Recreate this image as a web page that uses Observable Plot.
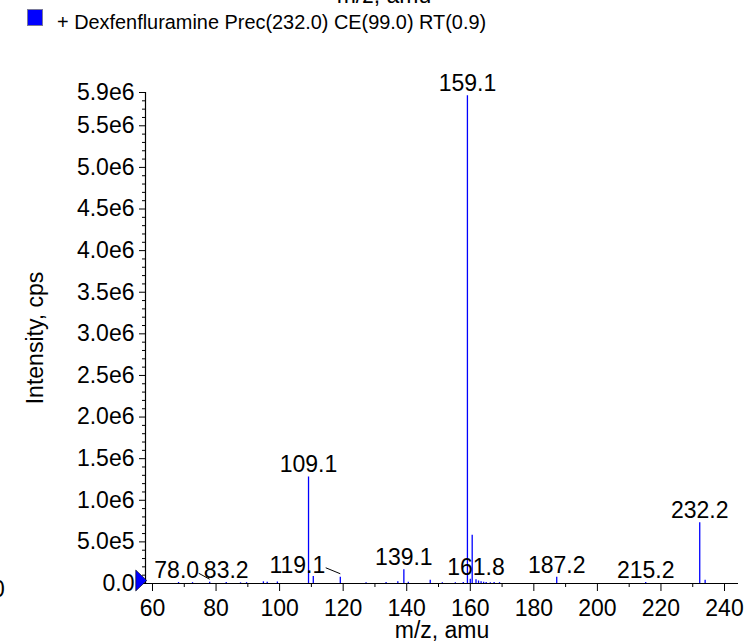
<!DOCTYPE html>
<html><head><meta charset="utf-8">
<script src="https://cdn.jsdelivr.net/npm/d3@7"></script>
<script src="https://cdn.jsdelivr.net/npm/@observablehq/plot@0.6"></script>
<style>
body{margin:0;background:#fff;}
#wrap{position:relative;width:756px;height:642px;overflow:hidden;font-family:"Liberation Sans",Arial,sans-serif;color:#000;background:#fff;}
#cutTop{position:absolute;top:-16px;left:0;width:768px;text-align:center;font-size:23px;line-height:23px;white-space:nowrap;}
#legend{position:relative;height:45px;}
#swatch{position:absolute;left:27px;top:9px;width:14px;height:15px;background:#0000ff;border:1px solid #7a7a9a;}
#legendText{position:absolute;left:57px;top:12px;font-size:19.9px;line-height:20px;white-space:nowrap;}
#cutLeft{position:absolute;left:-8px;top:578px;font-size:23px;line-height:23px;}
</style></head><body>
<div id="wrap">
  <div id="cutTop">m/z, amu</div>
  <div id="legend"><span id="swatch"></span><span id="legendText"></span></div>
  <div id="chart"></div>
  <div id="cutLeft">0</div>
</div>
<script>
// ---- data ----
const seriesName = "+ Dexfenfluramine Prec(232.0) CE(99.0) RT(0.9)";
const mz = [68.2, 72.6, 78.0, 83.2, 87.7, 89.6, 94.9, 96.1, 99.3, 109.1, 110.6, 119.1, 127.2, 133.5, 137.2, 139.1, 140.5, 147.4, 151.2, 155.3, 157.8, 159.1, 160.0, 160.6, 161.8, 162.6, 163.4, 164.2, 165.0, 166.3, 167.5, 169.2, 187.2, 215.2, 232.2, 233.9];
const intensity = [0.012e6, 0.010e6, 0.015e6, 0.012e6, 0.008e6, 0.010e6, 0.020e6, 0.015e6, 0.018e6, 1.28e6, 0.085e6, 0.075e6, 0.010e6, 0.012e6, 0.020e6, 0.165e6, 0.015e6, 0.040e6, 0.010e6, 0.010e6, 0.012e6, 5.86e6, 0.050e6, 0.58e6, 0.045e6, 0.030e6, 0.020e6, 0.015e6, 0.012e6, 0.010e6, 0.012e6, 0.010e6, 0.075e6, 0.012e6, 0.73e6, 0.040e6];
const labelMz = [78.0, 83.2, 109.1, 119.1, 139.1, 159.1, 161.8, 187.2, 215.2, 232.2];
const labelText = ["78.0", "83.2", "109.1", "119.1", "139.1", "159.1", "161.8", "187.2", "215.2", "232.2"];
const xMajorTicks = [60, 80, 100, 120, 140, 160, 180, 200, 220, 240];
const yMajorTicks = [0, 0.5e6, 1.0e6, 1.5e6, 2.0e6, 2.5e6, 3.0e6, 3.5e6, 4.0e6, 4.5e6, 5.0e6, 5.5e6, 5.9e6];
const xLabel = "m/z, amu";
const yLabel = "Intensity, cps";

// ---- layout ----
const W = 756, H = 597, mL = 145, mR = 18, mT = 47, mB = 59;
const xDomain = [57.8, 244.4], yDomain = [0, 5.9e6];
const kx = (W - mL - mR) / (xDomain[1] - xDomain[0]);
const ky = (H - mT - mB) / (yDomain[1] - yDomain[0]);

document.getElementById("legendText").textContent = seriesName;

const peaks = mz.map((m, i) => ({mz: m, v: intensity[i]}));
const peakOf = m => peaks.find(p => p.mz === m);
const labels = labelMz.map((m, i) => ({mz: m, v: peakOf(m).v, text: labelText[i]}));
const centered = labels.filter(d => d.text !== "78.0" && d.text !== "119.1");
const lab78 = labels.filter(d => d.text === "78.0");
const lab119 = labels.filter(d => d.text === "119.1");

const xMinor = d3.range(70, 240, 20);
const yMinor = d3.range(1, 59).map(i => i * 1e5).filter(v => Math.round(v / 1e5) % 5 !== 0);
const fmtY = d => d === 0 ? "0.0" : d < 1e6 ? (d / 1e5).toFixed(1) + "e5" : (d / 1e6).toFixed(1) + "e6";

const triangle = {
  draw(context, size) {
    const s = Math.sqrt(size / Math.PI);
    context.moveTo(-s * 0.5, -s);
    context.lineTo(s * 0.55, 0);
    context.lineTo(-s * 0.5, s);
    context.closePath();
  }
};

const leader = (arr, sx, sy, ey) => Plot.link(arr, {
  x1: d => d.mz - sx / kx, y1: d => d.v + sy / ky,
  x2: d => d.mz, y2: d => d.v + ey / ky,
  stroke: "#000", strokeWidth: 1
});

const chart = Plot.plot({
  width: W, height: H,
  marginLeft: mL, marginRight: mR, marginTop: mT, marginBottom: mB,
  style: {fontFamily: "Liberation Sans, Arial, sans-serif", fontSize: "23px", color: "#000", background: "#fff", overflow: "visible"},
  x: {domain: xDomain, axis: null},
  y: {domain: yDomain, axis: null},
  marks: [
    Plot.ruleX(peaks, {x: "mz", y1: 0, y2: "v", stroke: "#0000ff", strokeWidth: 1.3}),
    Plot.ruleY([0], {stroke: "#000", strokeWidth: 1.2}),
    Plot.ruleX([xDomain[0]], {stroke: "#000", strokeWidth: 1.2}),
    Plot.axisY({ticks: yMajorTicks, tickSize: 6, tickPadding: 5, tickFormat: fmtY, fontSize: 23, anchor: "left", label: null}),
    Plot.axisY({ticks: yMinor, tickSize: 3, tickFormat: () => "", anchor: "left", label: null}),
    Plot.axisX({ticks: xMajorTicks, tickSize: 8, tickPadding: 8, tickFormat: d => String(d), fontSize: 23, anchor: "bottom", label: null}),
    Plot.axisX({ticks: xMinor, tickSize: 4, tickFormat: () => "", anchor: "bottom", label: null}),
    Plot.text(centered, {x: "mz", y: "v", text: "text", dy: -12, fontSize: 23, fill: "#000"}),
    Plot.text(lab78, {x: "mz", y: "v", text: "text", dy: -12, dx: -33, fontSize: 23, fill: "#000"}),
    Plot.text(lab119, {x: "mz", y: "v", text: "text", dy: -12, dx: -43, fontSize: 23, fill: "#000"}),
    leader(lab78, 11, 9, 3),
    leader(lab119, 14.6, 9.5, 3.5),
    Plot.dot([0], {x: () => xDomain[0], y: () => 0, symbol: triangle, r: 10.5, fill: "#0000ff", stroke: "#000", strokeWidth: 0.6, dx: -4.5, dy: -3}),
    Plot.text([xLabel], {frameAnchor: "bottom", lineAnchor: "middle", textAnchor: "middle", dy: 47, fontSize: 23, fill: "#000"}),
    Plot.text([yLabel], {frameAnchor: "left", lineAnchor: "middle", textAnchor: "middle", dx: -110, rotate: -90, fontSize: 23, fill: "#000"})
  ]
});
document.getElementById("chart").appendChild(chart);
</script>
</body></html>
